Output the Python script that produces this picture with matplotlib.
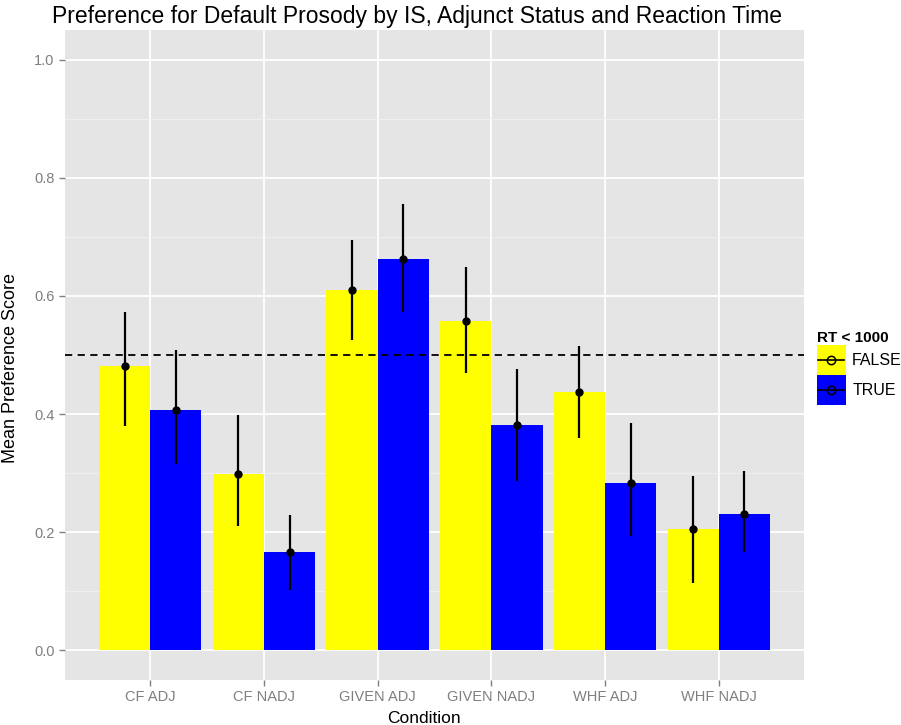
import numpy as np
import matplotlib.pyplot as plt
from matplotlib.patches import Patch, Rectangle
from matplotlib.lines import Line2D

plt.rcParams['font.family'] = ['Liberation Sans', 'DejaVu Sans']

# datos
condiciones = ['CF ADJ', 'CF NADJ', 'GIVEN ADJ', 'GIVEN NADJ', 'WHF ADJ', 'WHF NADJ']
media_false = [0.481, 0.299, 0.610, 0.558, 0.437, 0.205]
inf_false = [0.380, 0.211, 0.525, 0.469, 0.359, 0.115]
sup_false = [0.573, 0.399, 0.695, 0.649, 0.515, 0.295]
media_true = [0.407, 0.166, 0.663, 0.381, 0.284, 0.231]
inf_true = [0.315, 0.103, 0.572, 0.286, 0.193, 0.167]
sup_true = [0.508, 0.229, 0.755, 0.476, 0.385, 0.304]
grupos = ['FALSE', 'TRUE']
colores = ['#FFFF00', '#0000FF']


class ClaveLeyenda:
    # cuadro de color con linea y circulo centrados, como en ggplot
    def legend_artist(self, legend, orig_handle, fontsize, handlebox):
        x0, y0 = -handlebox.xdescent, -handlebox.ydescent
        w, h = handlebox.width, handlebox.height
        t = handlebox.get_transform()
        rect = Rectangle((x0, y0), w, h, facecolor=orig_handle.get_facecolor(),
                         edgecolor='none', transform=t)
        linea = Line2D([x0 + 1, x0 + w - 1], [y0 + h / 2] * 2, color='black',
                       linewidth=1.2, transform=t)
        punto = Line2D([x0 + w / 2], [y0 + h / 2], marker='o', markersize=6,
                       markerfacecolor='none', markeredgecolor='black',
                       markeredgewidth=1.1, linestyle='none', transform=t)
        for a in (rect, linea, punto):
            handlebox.add_artist(a)
        return rect


fig = plt.figure(figsize=(9.01, 7.25), dpi=100)
ax = fig.add_axes([65 / 901, 45 / 725, 739 / 901, 650 / 725])

x = np.arange(1, len(condiciones) + 1)
ancho = 0.45
series = [(media_false, inf_false, sup_false), (media_true, inf_true, sup_true)]
for i, (m, lo, hi) in enumerate(series):
    xs = x + (i - 0.5) * ancho
    m = np.array(m)
    ax.bar(xs, m, width=ancho, color=colores[i], zorder=2)
    ax.vlines(xs, lo, hi, color='black', linewidth=1.6, zorder=3)
    ax.plot(xs, m, 'o', color='black', markersize=5, zorder=4)

ax.axhline(0.5, color='black', linestyle=(0, (4, 3)), linewidth=1.3, zorder=3)

# estilo ggplot
ax.set_facecolor('#E5E5E5')
for s in ax.spines.values():
    s.set_visible(False)
ax.set_xlim(0.25, 6.75)
ax.set_ylim(-0.05, 1.05)
ax.set_xticks(x)
ax.set_xticklabels(condiciones)
ax.set_yticks([0.0, 0.2, 0.4, 0.6, 0.8, 1.0])
ax.set_yticks([0.1, 0.3, 0.5, 0.7, 0.9], minor=True)
ax.grid(True, which='major', color='white', linewidth=1.3, zorder=0)
ax.grid(True, which='minor', axis='y', color='#F2F2F2', linewidth=0.6, zorder=0)
ax.set_axisbelow(True)
ax.tick_params(which='major', colors='#7F7F7F', labelsize=10.5, length=4, width=1)
ax.tick_params(which='minor', length=0)
for lab in ax.get_xticklabels() + ax.get_yticklabels():
    lab.set_color('#7F7F7F')

ax.set_xlabel('Condition', fontsize=12.5)
ax.set_ylabel('Mean Preference Score', fontsize=13)
ax.xaxis.set_label_coords(0.486, -0.047)
ax.yaxis.set_label_coords(-0.062, 0.48)
ax.set_title('Preference for Default Prosody by IS, Adjunct Status and Reaction Time',
             fontsize=16.5, x=0.4757, pad=5)

handles = [Patch(facecolor=c) for c in colores]
leg = ax.legend(handles, grupos, title='RT < 1000', loc='upper left',
                bbox_to_anchor=(1.017, 0.537), frameon=False, fontsize=11.5,
                handlelength=1.83, handleheight=2.5, labelspacing=0.0,
                handletextpad=0.4, borderpad=0, borderaxespad=0,
                handler_map={Patch: ClaveLeyenda()})
leg.get_title().set_fontweight('bold')
leg.get_title().set_fontsize(11)
leg._legend_box.align = 'left'

fig.savefig('out.png', dpi=100)
